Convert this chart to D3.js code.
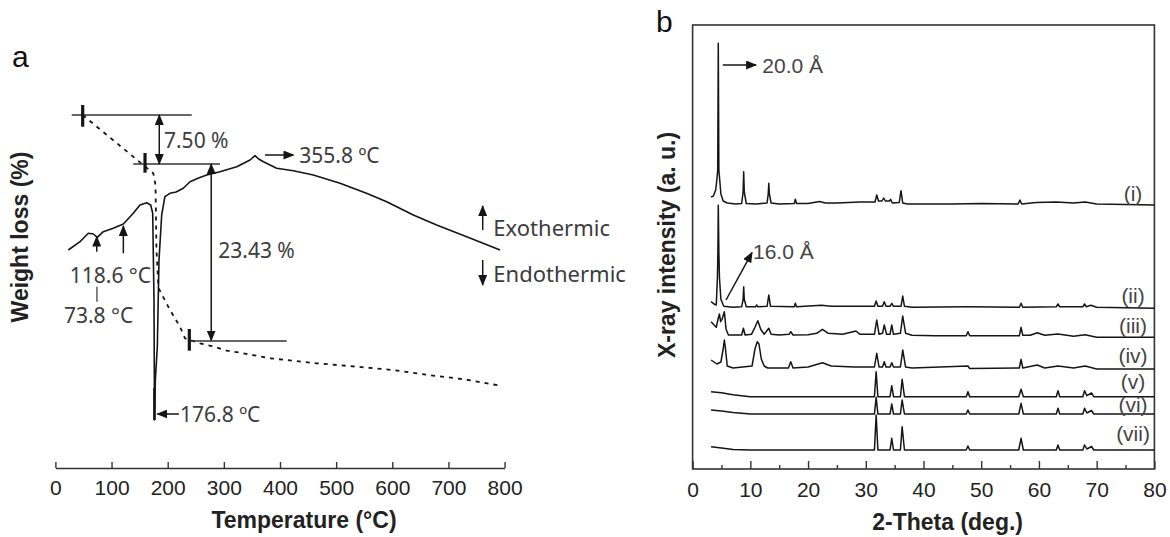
<!DOCTYPE html>
<html><head><meta charset="utf-8">
<script src="https://cdn.jsdelivr.net/npm/d3@7"></script>
<style>body{margin:0;background:#fff} svg{display:block}</style>
</head><body>
<svg id="chart" width="1170" height="537"></svg>
<script>
// ================= Panel a data (DTA / TG) =================
const tempTicks = [0,100,200,300,400,500,600,700,800];
// DTA signal (a.u.) vs temperature (°C)
const dtaCurve = [[23,218],[43.8,226.3],[58.6,234.7],[67.5,234],[74.6,230.7],[85.3,236.3],[103,239.7],[121,244],[138.7,254.7],[150.7,263],[162.6,265.3],[169.7,263],[173.3,254.7],[175.6,168],[176.5,48],[178,88],[181.5,121],[184.5,208],[189.3,253],[195,271.3],[204,274.7],[215,276],[227.8,279.7],[239.7,286.3],[255,290],[269.5,293],[293,296.3],[323,301.3],[346.6,308],[355.5,312.3],[362,309],[370.5,306.3],[394,299.7],[423.7,297.3],[459.3,293],[506.9,284.7],[554,274.7],[590,266.3],[637.4,253],[679,243],[732.5,231.3],[792,218]];
// TG weight curve (a.u.) vs temperature (°C)
const tgCurve = [[48.6,353],[174.4,294.7],[178.3,283],[180,218],[183.6,180],[204.1,158],[221.9,141.3],[230.8,129.7],[257.5,124.7],[278.4,122],[305.1,117.3],[328.8,115.3],[382.2,109.7],[465.4,104.7],[537.1,101.3],[601.1,98],[664.6,93],[728.2,88.7],[795,82]];

// ================= Panel b data (XRD) =================
const thetaTicks = [0,10,20,30,40,50,60,70,80];
const thetaMinorTicks = [5,15,25,35,45,55,65,75];
const patternLabels = ["(i)","(ii)","(iii)","(iv)","(v)","(vi)","(vii)"];
const patternOffsets = [265,161.7,131.7,100,72.3,55,19];
const pattern_i = [[3.2,7],[3.6,8],[4.0,14],[4.2,24],[4.35,34],[4.45,160.7],[4.55,34],[4.7,24],[4.9,10],[5.3,3],[6.0,1],[7.5,0],[8.5,0.5],[8.75,12],[8.85,32.3],[8.95,12],[9.3,0.5],[11,0],[12.9,1],[13.1,10],[13.2,20.7],[13.3,10],[13.6,1],[15,0],[17.6,0.5],[17.8,4.7],[18.0,0.5],[20,0.5],[22,2.5],[23,1],[25,1],[27,1.5],[29,2],[31.6,2],[31.9,9],[32.2,3],[32.8,3],[33.1,6],[33.4,3],[34.1,3],[34.3,4.7],[34.6,1],[35.8,1.5],[36.1,13.3],[36.4,1],[37.2,0],[45,0],[50,0.5],[56.4,0],[56.7,4],[57,0],[59.5,1.5],[63,2],[66,1],[68,2],[70,0],[80,-1]];
const pattern_ii = [[3.2,5.6],[3.8,3],[4.1,2.3],[4.3,30],[4.38,55],[4.45,102],[4.55,55],[4.65,30],[4.9,8],[5.4,1],[7,0],[8.5,0.5],[8.75,8],[8.85,20.6],[8.95,8],[9.3,0.5],[10.9,0.5],[11.1,2.3],[11.3,0.5],[12.9,1],[13.2,12.3],[13.5,1],[17.6,0.5],[17.8,4],[18,0.5],[22.3,2],[24,1],[28,1],[31.5,1],[31.8,6.3],[32.1,1],[32.9,1],[33.2,5.6],[33.5,1],[34.2,1],[34.5,4],[34.8,1],[36.1,1],[36.4,11.3],[36.7,1],[38,0],[47.7,0.5],[56.6,0],[56.9,4],[57.2,0],[63,0.5],[63.3,3.3],[63.6,0.5],[67.6,0.5],[67.9,3.3],[68.2,0.5],[69,2],[70,0],[80,-1]];
const pattern_iii = [[3.2,15.6],[3.6,13],[4.1,10],[4.4,18],[4.65,23.3],[4.85,15.6],[5.1,18],[5.5,25.6],[5.8,8],[6.2,2.3],[7,2.3],[8.5,2.3],[8.8,9],[9.1,2.3],[10.2,3],[10.8,10],[11.3,16.6],[11.8,8],[12.4,3],[13.2,9],[13.6,3],[15,2.3],[16.7,3],[17,5.6],[17.4,2.3],[20,2.5],[21.5,4],[22.5,8],[23.5,4],[26,3],[28.3,6.3],[29,3],[31.5,3],[31.9,17.3],[32.3,3],[32.9,4],[33.2,12.3],[33.6,3],[34.2,3],[34.5,12.3],[34.8,3],[36.0,4],[36.4,21.3],[36.9,4],[38,2],[42,1.5],[47.4,1.5],[47.7,5.6],[48,1.5],[52,1.5],[56.6,1.5],[56.9,10],[57.2,2],[58.5,2],[59.7,4.6],[61,2],[63.3,3.3],[66,1],[68,2.6],[70,0],[80,0]];
const pattern_iv = [[3.2,9],[3.7,7],[4.2,5],[4.9,7],[5.3,20],[5.5,29],[5.7,20],[6.0,3],[7,1],[10.3,3],[10.8,20],[11.2,27.3],[11.5,25],[11.9,10],[12.4,3],[13,1],[16.6,1],[17,7.3],[17.4,1],[20,2],[22.5,6.3],[24,3],[28,2],[31.5,2],[31.9,15.7],[32.3,2],[32.9,2],[33.2,7.3],[33.5,2],[34.2,2],[34.5,6.3],[34.8,2],[36.0,2],[36.4,19],[36.9,2],[38,1],[47.7,3],[48,0.5],[56.6,1],[56.9,9.7],[57.2,1],[59.7,4],[61,1],[63.3,3],[66,1],[68,3],[70,0],[80,0]];
const pattern_v = [[3.2,5],[5,4],[7,2],[10,0],[31.5,0],[31.8,25],[32.1,0],[34.2,0],[34.5,11],[34.8,0],[36.0,0],[36.3,17.4],[36.7,0],[47.4,0],[47.7,5],[48,0],[56.5,0],[56.9,7.4],[57.3,0],[63,0],[63.3,6],[63.6,0],[67.6,0],[67.9,6],[68.3,1],[69.1,3.7],[69.5,0],[80,0]];
const pattern_vi = [[3.2,4],[5,3],[7,1.5],[10,0],[31.5,0],[31.8,16.7],[32.1,0],[34.2,0],[34.5,10],[34.8,0],[36.0,0],[36.3,14],[36.7,0],[47.4,0],[47.7,4],[48,0],[56.5,0],[56.9,10.7],[57.3,0],[63,0],[63.3,5.7],[63.6,0],[67.6,0],[67.9,5.7],[68.3,1],[69.1,3.5],[69.5,0],[80,0]];
const pattern_vii = [[3.2,3.3],[5,2],[7,0.5],[10,0],[31.5,0],[31.8,35],[32.1,0],[34.2,0],[34.5,11.7],[34.8,0],[36.0,0],[36.3,23.3],[36.7,0],[47.4,0],[47.7,4],[48,0],[56.5,0],[56.9,11.7],[57.3,0],[63,0],[63.3,5],[63.6,0],[67.6,0],[67.9,5],[68.3,1],[69.1,3.5],[69.5,0],[80,0]];
const patterns = [pattern_i, pattern_ii, pattern_iii, pattern_iv, pattern_v, pattern_vi, pattern_vii];

// ================= drawing =================
const svg = d3.select("#chart");
const SANS = "'Liberation Sans', Arial, sans-serif";
const ANNO = "'Noto Sans', 'Open Sans', sans-serif";
const INK = "#151515", TXT = "#3c3c3c";

const defs = svg.append("defs");
defs.append("marker").attr("id","ah").attr("markerUnits","userSpaceOnUse")
  .attr("markerWidth",11).attr("markerHeight",9).attr("refX",10).attr("refY",4.5)
  .attr("orient","auto-start-reverse")
  .append("path").attr("d","M0,0 L11,4.5 L0,9 Z").attr("fill",INK);

// ---------- Panel a ----------
const xA = d3.scaleLinear().domain([0,800]).range([55.4,504.6]);
const yA = d3.scaleLinear().domain([0,444]).range([468,24]);
const gA = svg.append("g");

const axA = gA.append("g").attr("transform",`translate(0,${yA(0)})`)
  .call(d3.axisBottom(xA).tickValues(tempTicks).tickSize(-6).tickSizeOuter(0).tickPadding(12));
axA.select(".domain").attr("stroke","#333").attr("stroke-width",1.6);
axA.selectAll(".tick line").attr("stroke","#333").attr("stroke-width",1.4);
axA.selectAll(".tick text").attr("font-family",SANS).attr("font-size",21).attr("fill","#222");

const lineA = d3.line().x(d=>xA(d[0])).y(d=>yA(d[1]));
gA.append("path").datum(dtaCurve).attr("d",lineA).attr("fill","none").attr("stroke",INK).attr("stroke-width",1.6).attr("stroke-linejoin","round");
gA.append("path").datum(tgCurve).attr("d",lineA).attr("fill","none").attr("stroke",INK).attr("stroke-width",1.8).attr("stroke-dasharray","4,5");

function seg(g,x1,y1,x2,y2,opt={}){
  const l = g.append("line").attr("x1",x1).attr("y1",y1).attr("x2",x2).attr("y2",y2)
    .attr("stroke",opt.color||"#333").attr("stroke-width",opt.w||1.5);
  if(opt.end) l.attr("marker-end","url(#ah)");
  if(opt.start) l.attr("marker-start","url(#ah)");
  return l;
}
function txt(g,x,y,s,opt={}){
  return g.append("text").attr("x",x).attr("y",y).attr("dominant-baseline","central")
    .attr("font-family",opt.font||ANNO).attr("font-size",opt.size||21)
    .attr("fill",opt.color||TXT).attr("text-anchor",opt.anchor||"start")
    .attr("font-weight",opt.weight||"normal").text(s);
}
// 7.50 % step
seg(gA,xA(29),yA(353),xA(242.7),yA(353));
seg(gA,xA(48.6),yA(363),xA(48.6),yA(341.3),{w:3.2,color:INK});
seg(gA,xA(138.7),yA(304),xA(293.1),yA(304));
seg(gA,xA(159.6),yA(315),xA(159.6),yA(295.3),{w:3.2,color:INK});
seg(gA,xA(185),yA(353),xA(185),yA(304),{start:true,end:true,color:INK,w:1.5});
txt(gA,xA(193.4),yA(328),"7.50 %");
// 23.43 % step
seg(gA,xA(277.5),yA(304),xA(277.5),yA(127.5),{start:true,end:true,color:INK,w:1.5});
seg(gA,xA(238.5),yA(127),xA(412),yA(127));
seg(gA,xA(238.5),yA(139),xA(238.5),yA(117.3),{w:3.2,color:INK});
txt(gA,xA(290),yA(218),"23.43 %");
// peak annotations
seg(gA,xA(373.3),yA(313),xA(424),yA(313),{end:true,color:INK});
txt(gA,xA(434.4),yA(313),"355.8 \u00BAC");
seg(gA,xA(220),yA(54),xA(181.5),yA(54),{end:true,color:INK});
txt(gA,xA(222),yA(54),"176.8 \u00BAC");
seg(gA,xA(176.4),yA(80),xA(176.4),yA(48),{w:2.6,color:INK});
seg(gA,xA(73.6),yA(216.3),xA(73.6),yA(231.5),{end:true,color:INK});
seg(gA,xA(121),yA(214.7),xA(121),yA(242),{end:true,color:INK});
txt(gA,xA(98),yA(193),"118.6 \u00B0C",{anchor:"middle"});
seg(gA,xA(74),yA(181.3),xA(74),yA(166.3),{w:1.2});
txt(gA,xA(77),yA(153),"73.8 \u00B0C",{anchor:"middle"});
// exo / endo
seg(gA,xA(761),yA(238),xA(761),yA(262),{end:true,color:INK});
txt(gA,xA(780),yA(241),"Exothermic",{size:22});
seg(gA,xA(761),yA(208),xA(761),yA(183),{end:true,color:INK});
txt(gA,xA(780),yA(194.7),"Endothermic",{size:22});
// titles
svg.append("text").attr("x",12).attr("y",67).attr("font-family",SANS).attr("font-size",30).attr("fill","#111").text("a");
svg.append("text").attr("x",304).attr("y",520).attr("dominant-baseline","central").attr("text-anchor","middle")
  .attr("font-family",SANS).attr("font-weight","bold").attr("font-size",23).attr("fill","#222").text("Temperature (\u00B0C)");
svg.append("text").attr("transform","translate(20,237) rotate(-90)").attr("dominant-baseline","central").attr("text-anchor","middle")
  .attr("font-family",SANS).attr("font-weight","bold").attr("font-size",23).attr("fill","#222").text("Weight loss (%)");

// ---------- Panel b ----------
const xB = d3.scaleLinear().domain([0,80]).range([692.6,1154.4]);
const yB = d3.scaleLinear().domain([0,444]).range([469,25]);
const gB = svg.append("g");
gB.append("rect").attr("x",xB(0)).attr("y",yB(444)).attr("width",xB(80)-xB(0)).attr("height",yB(0)-yB(444))
  .attr("fill","none").attr("stroke","#333").attr("stroke-width",1.6);
const axB = gB.append("g").attr("transform",`translate(0,${yB(0)})`)
  .call(d3.axisBottom(xB).tickValues(thetaTicks).tickSize(-8).tickSizeOuter(0).tickPadding(13));
axB.select(".domain").remove();
axB.selectAll(".tick line").attr("stroke","#333").attr("stroke-width",1.4);
axB.selectAll(".tick text").attr("font-family",SANS).attr("font-size",21).attr("fill","#222");
const axBm = gB.append("g").attr("transform",`translate(0,${yB(0)})`)
  .call(d3.axisBottom(xB).tickValues(thetaMinorTicks).tickSize(-4).tickFormat(""));
axBm.select(".domain").remove();
axBm.selectAll(".tick line").attr("stroke","#333").attr("stroke-width",1.4);

const labelLift = [10.7,12.3,12.3,14,15,9.7,16.7];
patterns.forEach((p,i)=>{
  const off = patternOffsets[i];
  const ln = d3.line().x(d=>xB(d[0])).y(d=>yB(d[1]+off));
  gB.append("path").datum(p).attr("d",ln).attr("fill","none").attr("stroke",INK).attr("stroke-width",1.5).attr("stroke-linejoin","round");
  txt(gB,xB(76.3),yB(off+labelLift[i]),patternLabels[i],{font:SANS,anchor:"middle",size:21,color:"#444"});
});
// d-spacing annotations
seg(gB,xB(5.23),yB(404),xB(11.0),yB(404),{end:true,color:INK});
txt(gB,xB(12.08),yB(404),"20.0 \u00C5",{font:SANS,size:21,color:"#444"});
seg(gB,xB(5.79),yB(169),xB(10.3),yB(216.5),{end:true,color:INK});
txt(gB,xB(10.46),yB(217.3),"16.0 \u00C5",{font:SANS,size:21,color:"#444"});

svg.append("text").attr("x",656).attr("y",32).attr("font-family",SANS).attr("font-size",30).attr("fill","#111").text("b");
svg.append("text").attr("x",947.6).attr("y",521.7).attr("dominant-baseline","central").attr("text-anchor","middle")
  .attr("font-family",SANS).attr("font-weight","bold").attr("font-size",23).attr("fill","#222").text("2-Theta (deg.)");
svg.append("text").attr("transform","translate(667,245) rotate(-90)").attr("dominant-baseline","central").attr("text-anchor","middle")
  .attr("font-family",SANS).attr("font-weight","bold").attr("font-size",23).attr("fill","#222").text("X-ray intensity (a. u.)");
</script>
</body></html>
